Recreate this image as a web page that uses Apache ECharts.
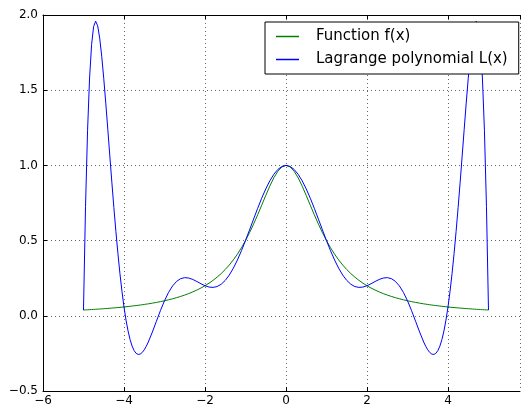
<!DOCTYPE html>
<html><head><meta charset="utf-8">
<script src="https://cdn.jsdelivr.net/npm/echarts@6/dist/echarts.min.js"></script>
<style>html,body{margin:0;padding:0;background:#fff}#c{width:521px;height:405px}</style>
</head><body><div id="c"></div>
<script>
var xVals = [-5.0,-4.95,-4.9,-4.85,-4.8,-4.75,-4.7,-4.65,-4.6,-4.55,-4.5,-4.45,-4.4,-4.35,-4.3,-4.25,-4.2,-4.15,-4.1,-4.05,
 -4.0,-3.95,-3.9,-3.85,-3.8,-3.75,-3.7,-3.65,-3.6,-3.55,-3.5,-3.45,-3.4,-3.3,-3.2,-3.1,-3.0,-2.9,-2.8,-2.7,-2.6,-2.5,-2.4,-2.3,-2.2,-2.1,
 -2.0,-1.9,-1.8,-1.7,-1.6,-1.5,-1.4,-1.3,-1.2,-1.1,-1.0,-0.9,-0.8,-0.7,-0.6,-0.5,-0.4,-0.3,-0.2,-0.1,
 0.0,0.1,0.2,0.3,0.4,0.5,0.6,0.7,0.8,0.9,1.0,1.1,1.2,1.3,1.4,1.5,1.6,1.7,1.8,1.9,2.0,2.1,2.2,2.3,2.4,2.5,2.6,2.7,2.8,2.9,
 3.0,3.1,3.2,3.3,3.4,3.45,3.5,3.55,3.6,3.65,3.7,3.75,3.8,3.85,3.9,3.95,4.0,4.05,4.1,4.15,4.2,4.25,4.3,4.35,4.4,4.45,
 4.5,4.55,4.6,4.65,4.7,4.75,4.8,4.85,4.9,4.95,5.0];
var fVals = [0.0385,0.0392,0.0400,0.0408,0.0416,0.0424,0.0433,0.0442,0.0451,0.0461,0.0471,0.0481,0.0491,0.0502,0.0513,0.0525,0.0536,0.0549,0.0561,0.0575,
 0.0588,0.0602,0.0617,0.0632,0.0648,0.0664,0.0681,0.0698,0.0716,0.0735,0.0755,0.0775,0.0796,0.0841,0.0890,0.0943,0.1000,0.1063,0.1131,0.1206,0.1289,0.1379,0.1479,0.1590,0.1712,0.1848,
 0.2000,0.2169,0.2358,0.2571,0.2809,0.3077,0.3378,0.3717,0.4098,0.4525,0.5000,0.5525,0.6098,0.6711,0.7353,0.8000,0.8621,0.9174,0.9615,0.9901,
 1.0000,0.9901,0.9615,0.9174,0.8621,0.8000,0.7353,0.6711,0.6098,0.5525,0.5000,0.4525,0.4098,0.3717,0.3378,0.3077,0.2809,0.2571,0.2358,0.2169,0.2000,0.1848,0.1712,0.1590,0.1479,0.1379,0.1289,0.1206,0.1131,0.1063,
 0.1000,0.0943,0.0890,0.0841,0.0796,0.0775,0.0755,0.0735,0.0716,0.0698,0.0681,0.0664,0.0648,0.0632,0.0617,0.0602,0.0588,0.0575,0.0561,0.0549,0.0536,0.0525,0.0513,0.0502,0.0491,0.0481,
 0.0471,0.0461,0.0451,0.0442,0.0433,0.0424,0.0416,0.0408,0.0400,0.0392,0.0385];
var lVals = [0.0385,0.7261,1.2303,1.5810,1.8044,1.9236,1.9589,1.9279,1.8459,1.7257,1.5788,1.4143,1.2402,1.0631,0.8881,0.7195,0.5604,0.4135,0.2802,0.1618,
 0.0588,-0.0286,-0.1007,-0.1580,-0.2013,-0.2315,-0.2496,-0.2569,-0.2546,-0.2440,-0.2262,-0.2026,-0.1743,-0.1083,-0.0363,0.0349,0.1000,0.1554,0.1987,0.2292,0.2472,0.2537,0.2510,0.2415,0.2278,0.2131,
 0.2000,0.1911,0.1888,0.1946,0.2099,0.2354,0.2710,0.3165,0.3708,0.4326,0.5000,0.5710,0.6432,0.7142,0.7818,0.8434,0.8971,0.9409,0.9733,0.9933,
 1.0000,0.9933,0.9733,0.9409,0.8971,0.8434,0.7818,0.7142,0.6432,0.5710,0.5000,0.4326,0.3708,0.3165,0.2710,0.2354,0.2099,0.1946,0.1888,0.1911,0.2000,0.2131,0.2278,0.2415,0.2510,0.2537,0.2472,0.2292,0.1987,0.1554,
 0.1000,0.0349,-0.0363,-0.1083,-0.1743,-0.2026,-0.2262,-0.2440,-0.2546,-0.2569,-0.2496,-0.2315,-0.2013,-0.1580,-0.1007,-0.0286,0.0588,0.1618,0.2802,0.4135,0.5604,0.7195,0.8881,1.0631,1.2402,1.4143,
 1.5788,1.7257,1.8459,1.9279,1.9589,1.9236,1.8044,1.5810,1.2303,0.7261,0.0385];
var seriesNames = ['Function f(x)', 'Lagrange polynomial L(x)'];
var seriesColors = ['#008000', '#0000ff'];

function pairs(ys){ return xVals.map(function(x,i){ return [x, ys[i]]; }); }
function fmt(v){ return v < 0 ? '\u2212' + Math.abs(v) : String(v); }

var chart = echarts.init(document.getElementById('c'), null, {renderer:'canvas'});
var font = 'DejaVu Sans';
var gridLine = {show:true, lineStyle:{color:'#666', width:1, type:[1,3]}};
chart.setOption({
  animation:false,
  backgroundColor:'#fff',
  textStyle:{fontFamily:font},
  grid:{left:43, right:1, top:15, bottom:14, containLabel:false, outerBoundsMode:'none'},
  legend:{
    orient:'vertical', left:265, top:22,
    padding:[7,11,7,11], itemGap:8, itemWidth:23, itemHeight:1.5,
    icon:'rect',
    backgroundColor:'#fff', borderColor:'#000', borderWidth:1, borderRadius:0,
    textStyle:{fontFamily:font, fontSize:15, color:'#000', padding:[0,0,0,12], lineHeight:15},
    data:seriesNames.map(function(n,i){ return {name:n, itemStyle:{color:seriesColors[i], borderWidth:0}}; })
  },
  xAxis:[{
    type:'value', position:'bottom', min:-6, max:5.778, interval:2,
    axisLine:{show:true, onZero:false, lineStyle:{color:'#000', width:1}},
    axisTick:{show:true, inside:true, length:4, lineStyle:{color:'#000'}},
    axisLabel:{color:'#000', fontSize:12, fontFamily:font, margin:4, showMaxLabel:false, formatter:fmt},
    splitLine:gridLine
  },{
    type:'value', position:'top', min:-6, max:5.778, interval:2,
    axisLine:{show:true, onZero:false, lineStyle:{color:'#000', width:1}},
    axisTick:{show:true, inside:true, length:4, lineStyle:{color:'#000'}},
    axisLabel:{show:false}, splitLine:{show:false}
  }],
  yAxis:{
    type:'value', min:-0.5, max:2.0, interval:0.5,
    axisLine:{show:true, onZero:false, lineStyle:{color:'#000', width:1}},
    axisTick:{show:true, inside:true, length:4, lineStyle:{color:'#000'}},
    axisLabel:{color:'#000', fontSize:12, fontFamily:font, margin:5,
      formatter:function(v){ var s = Math.abs(v).toFixed(1); return v < 0 ? '\u2212' + s : s; }},
    splitLine:gridLine
  },
  series:[
    {name:seriesNames[0], type:'line', xAxisIndex:0, data:pairs(fVals), symbol:'none', showSymbol:false,
     lineStyle:{color:seriesColors[0], width:1}, itemStyle:{color:seriesColors[0]}, z:2},
    {name:seriesNames[1], type:'line', xAxisIndex:0, data:pairs(lVals), symbol:'none', showSymbol:false,
     lineStyle:{color:seriesColors[1], width:1}, itemStyle:{color:seriesColors[1]}, z:3}
  ]
});
</script></body></html>
